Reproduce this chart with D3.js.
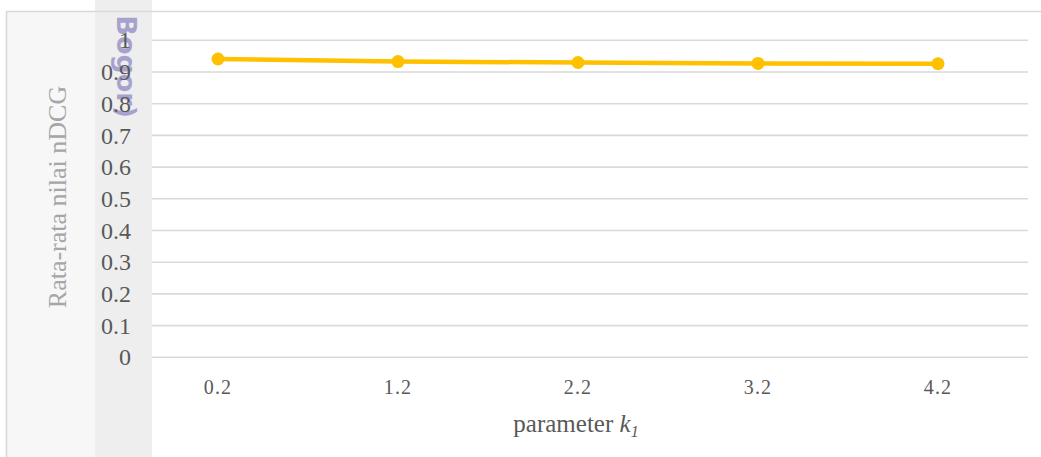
<!DOCTYPE html>
<html>
<head>
<meta charset="utf-8">
<script src="https://cdn.jsdelivr.net/npm/d3@7"></script>
<style>
  html, body { margin: 0; padding: 0; background: #ffffff; }
  svg { display: block; }
</style>
</head>
<body>
<svg id="chart" width="1041" height="457"></svg>
<script>
// k1 parameter values and the mean nDCG obtained for each
const categories = ["0.2", "1.2", "2.2", "3.2", "4.2"];
const ndcgValues = [0.941, 0.933, 0.930, 0.927, 0.926];
const yTicks = [0, 0.1, 0.2, 0.3, 0.4, 0.5, 0.6, 0.7, 0.8, 0.9, 1];
const yTickLabels = ["0", "0.1", "0.2", "0.3", "0.4", "0.5", "0.6", "0.7", "0.8", "0.9", "1"];

const svg = d3.select("#chart");
const W = 1041, H = 457;
const plot = { left: 128, right: 1028, top: 40.3, bottom: 357.3 };
const serif = "'Liberation Serif', 'Times New Roman', serif";

const x = d3.scalePoint().domain(categories).range([plot.left, plot.right]).padding(0.5);
const y = d3.scaleLinear().domain([0, 1]).range([plot.bottom, plot.top]);

// background panels
svg.append("rect").attr("x", 6).attr("y", 11).attr("width", 89).attr("height", H - 11)
  .attr("fill", "#f7f7f7");

// horizontal gridlines
svg.append("g").selectAll("line").data(yTicks).join("line")
  .attr("x1", plot.left).attr("x2", plot.right)
  .attr("y1", d => y(d)).attr("y2", d => y(d))
  .attr("stroke", "#d9d9d9").attr("stroke-width", 1.6);

// shaded side band
svg.append("rect").attr("x", 95).attr("y", 0).attr("width", 57).attr("height", H)
  .attr("fill", "#eeeeee");

// outer frame (top and left edges)
svg.append("path").attr("d", `M6.5,${H} L6.5,11.5 L${W},11.5`)
  .attr("fill", "none").attr("stroke", "#d9d9d9").attr("stroke-width", 1.6);

// rotated watermark text
svg.append("text")
  .attr("transform", "translate(117,118) rotate(90)")
  .attr("text-anchor", "end")
  .attr("font-family", "'DejaVu Sans', sans-serif")
  .attr("font-weight", "bold")
  .attr("font-size", 27)
  .attr("fill", "#8e89c2")
  .attr("fill-opacity", 0.75)
  .text("Bogor)");

// y tick labels
svg.append("g").selectAll("text").data(yTicks).join("text")
  .attr("x", 131).attr("y", d => y(d))
  .attr("dy", "0.34em")
  .attr("text-anchor", "end")
  .attr("font-family", serif).attr("font-size", 24)
  .attr("fill", "#595959")
  .text((d, i) => yTickLabels[i]);

// x tick labels
svg.append("g").selectAll("text").data(categories).join("text")
  .attr("x", d => x(d)).attr("y", 394)
  .attr("text-anchor", "middle")
  .attr("font-family", serif).attr("font-size", 20)
  .attr("letter-spacing", 1.2)
  .attr("fill", "#595959")
  .text(d => d);

// y axis title
svg.append("text")
  .attr("transform", `translate(66,${(82 + 312) / 2}) rotate(-90)`)
  .attr("text-anchor", "middle")
  .attr("font-family", serif).attr("font-size", 26)
  .attr("fill", "#a6a6a6")
  .text("Rata-rata nilai nDCG");

// x axis title with italic subscripted k1
const xt = svg.append("text")
  .attr("x", 576).attr("y", 432)
  .attr("text-anchor", "middle")
  .attr("font-family", serif).attr("font-size", 25)
  .attr("fill", "#595959");
xt.append("tspan").text("parameter ");
xt.append("tspan").attr("font-style", "italic").text("k");
xt.append("tspan").attr("font-style", "italic").attr("font-size", 16).attr("dy", 5).text("1");

// series line and markers
const line = d3.line().x((d, i) => x(categories[i])).y(d => y(d));
svg.append("path").datum(ndcgValues)
  .attr("d", line)
  .attr("fill", "none")
  .attr("stroke", "#ffc000")
  .attr("stroke-width", 4.5)
  .attr("stroke-linejoin", "round");

svg.append("g").selectAll("circle").data(ndcgValues).join("circle")
  .attr("cx", (d, i) => x(categories[i]))
  .attr("cy", d => y(d))
  .attr("r", 6.5)
  .attr("fill", "#ffc000");
</script>
</body>
</html>
